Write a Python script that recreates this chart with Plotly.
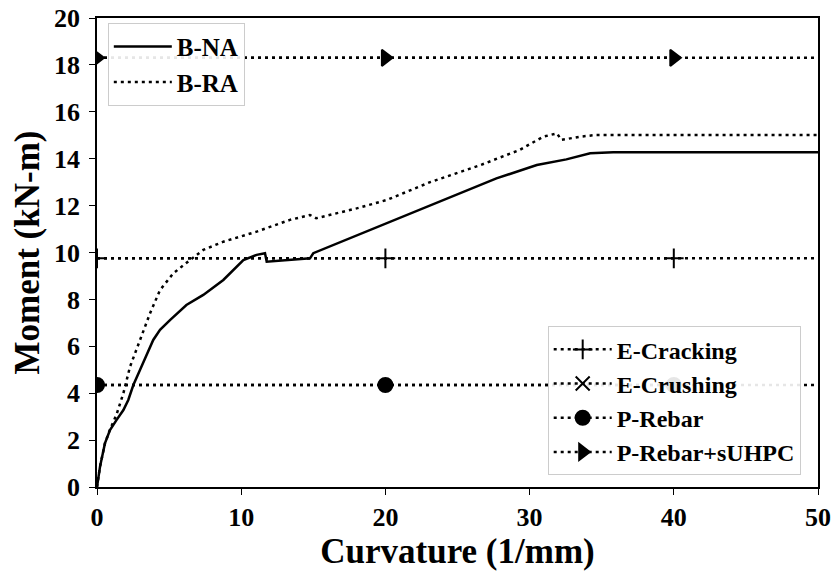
import plotly.graph_objects as go

# B-NA curve (solid)
na_x = [0, 0.21, 0.55, 0.9, 1.36, 1.83, 2.17, 2.52, 2.98, 3.45, 3.9, 4.37, 5.06, 6.2, 7.37, 8.76,
        10.15, 11.07, 11.65, 11.77, 14.77, 15.0, 17.5, 20.3, 21.0, 24.25, 27.7, 30.5, 32.55,
        34.2, 35.8, 50]
na_y = [0, 0.87, 1.86, 2.43, 2.86, 3.28, 3.71, 4.35, 4.99, 5.63, 6.27, 6.7, 7.12, 7.76, 8.19, 8.83,
        9.68, 9.9, 9.97, 9.61, 9.75, 9.97, 10.6, 11.3, 11.46, 12.3, 13.16, 13.73, 13.97,
        14.23, 14.27, 14.27]

# B-RA curve (dotted)
ra_x = [0, 0.21, 0.55, 0.9, 1.36, 1.83, 2.29, 2.98, 3.68, 4.37, 5.29, 6.45, 7.37, 8.76, 11.07,
        13.38, 14.77, 15.2, 18.0, 20.1, 23.1, 26.6, 29.3, 30.95, 31.9, 32.2, 33.5, 34.6, 50]
ra_y = [0, 0.87, 1.86, 2.45, 3.1, 4.0, 5.13, 6.27, 7.41, 8.4, 9.11, 9.68, 10.11, 10.46, 10.89,
        11.39, 11.6, 11.46, 11.88, 12.24, 13.0, 13.73, 14.37, 14.94, 15.08, 14.8, 14.94, 15.01,
        15.01]

# Reference levels
ref_names = ["E-Cracking", "E-Crushing", "P-Rebar", "P-Rebar+sUHPC"]
ref_levels = [9.75, 21.5, 4.35, 18.3]
ref_symbols = ["cross-thin", "x-thin", "circle", "triangle-right"]
marker_x = [0, 20, 40]
x_range = [0, 50]

FONT = "Liberation Serif"
DOT = "3px,4px"

fig = go.Figure()
fig.add_trace(go.Scatter(x=na_x, y=na_y, mode="lines", name="B-NA",
                         line=dict(color="black", width=2.5), legend="legend"))
fig.add_trace(go.Scatter(x=ra_x, y=ra_y, mode="lines", name="B-RA",
                         line=dict(color="black", width=2.5, dash=DOT), legend="legend"))

for name, lvl, sym in zip(ref_names, ref_levels, ref_symbols):
    fig.add_trace(go.Scatter(x=x_range, y=[lvl, lvl], mode="lines",
                             line=dict(color="black", width=2.5, dash=DOT),
                             showlegend=False, hoverinfo="skip", legend="legend2"))
    fig.add_trace(go.Scatter(x=marker_x, y=[lvl] * len(marker_x), mode="markers+lines", name=name,
                             line=dict(color="black", width=2.5, dash=DOT),
                             marker=dict(symbol=sym, size=14, color="black",
                                         line=dict(color="black", width=2)),
                             legend="legend2"))

fig.update_layout(
    width=836, height=574,
    margin=dict(l=97, r=18, t=18, b=87),
    plot_bgcolor="white", paper_bgcolor="white",
    font=dict(family=FONT, size=25, color="black", weight="bold"),
    xaxis=dict(range=[0, 50], tickvals=[0, 10, 20, 30, 40, 50], showgrid=False, zeroline=False,
               showline=True, linecolor="black", linewidth=1.5, mirror=True, automargin=False,
               ticks="outside", ticklen=6, tickcolor="black",
               tickfont=dict(family=FONT, size=26, weight="bold"),
               title=dict(text="Curvature (1/mm)", font=dict(family=FONT, size=35, weight="bold"),
                          standoff=4)),
    yaxis=dict(range=[0, 20], tickvals=list(range(0, 21, 2)), showgrid=False, zeroline=False,
               showline=True, linecolor="black", linewidth=1.5, mirror=True, automargin=False,
               ticks="outside", ticklen=6, tickcolor="black", ticklabelstandoff=4,
               tickfont=dict(family=FONT, size=26, weight="bold"),
               title=dict(text="Moment (kN-m)", font=dict(family=FONT, size=35, weight="bold"),
                          standoff=4)),
    legend=dict(x=0.015, y=0.99, xanchor="left", yanchor="top", itemwidth=58,
                bgcolor="rgba(255,255,255,0.9)", bordercolor="#cccccc", borderwidth=1,
                font=dict(family=FONT, size=25, weight="bold"), tracegroupgap=0),
    legend2=dict(x=0.976, y=0.025, xanchor="right", yanchor="bottom", itemwidth=58,
                 bgcolor="rgba(255,255,255,0.9)", bordercolor="#cccccc", borderwidth=1,
                 font=dict(family=FONT, size=24, weight="bold"), tracegroupgap=0),
    showlegend=True,
)

fig.write_html("out.html")
